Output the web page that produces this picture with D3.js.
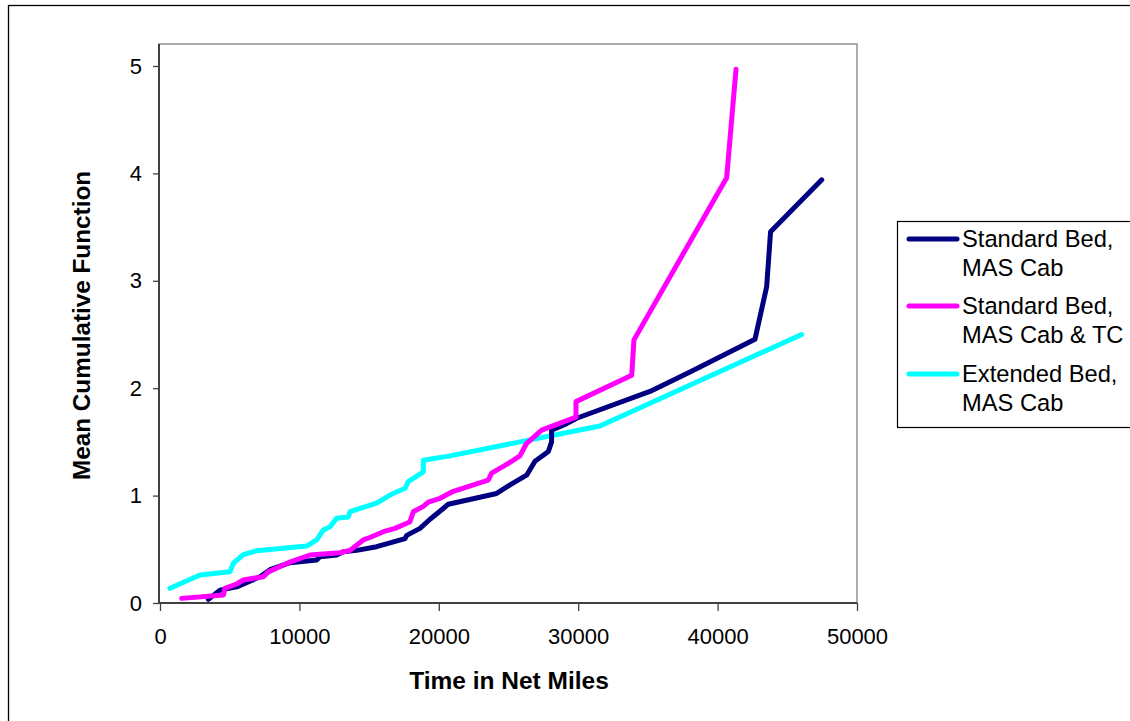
<!DOCTYPE html>
<html>
<head>
<meta charset="utf-8">
<script src="https://cdn.jsdelivr.net/npm/d3@7"></script>
<style>
  html, body { margin: 0; padding: 0; background: #fff; }
  svg { display: block; }
  text { font-family: "Liberation Sans", Arial, sans-serif; fill: #000; }
</style>
</head>
<body>
<svg id="chart" width="1130" height="721"></svg>
<script>
// ---- Data ----
const seriesNames = [["Standard Bed,", "MAS Cab"], ["Standard Bed,", "MAS Cab & TC"], ["Extended Bed,", "MAS Cab"]];
const seriesColors = ["#000080", "#FF00FF", "#00FFFF"];

const standardMiles = [3470, 4300, 5500, 7170, 7890, 9330, 11240, 11480, 12680, 13150, 14110, 15540, 16500, 17580, 17700, 18650, 19370, 20320, 20680, 24150, 25110, 26300, 26900, 27860, 28090, 28090, 29170, 29890, 35150, 38020, 42680, 43520, 43800, 47470];
const standardMCF   = [0.034, 0.12, 0.15, 0.245, 0.31, 0.375, 0.40, 0.43, 0.447, 0.478, 0.49, 0.524, 0.56, 0.60, 0.63, 0.695, 0.78, 0.88, 0.92, 1.02, 1.10, 1.19, 1.32, 1.41, 1.50, 1.61, 1.67, 1.72, 1.97, 2.15, 2.455, 2.945, 3.457, 3.94];

const tcMiles = [1550, 4550, 4660, 5500, 5980, 7410, 7770, 9210, 10760, 12910, 13630, 14580, 15060, 16020, 16860, 17580, 17930, 18170, 18890, 19250, 20090, 21040, 23550, 23790, 24990, 25820, 26300, 27380, 29840, 29840, 33840, 34000, 40650, 41320];
const tcMCF   = [0.043, 0.075, 0.137, 0.177, 0.214, 0.245, 0.29, 0.375, 0.447, 0.468, 0.49, 0.587, 0.61, 0.664, 0.695, 0.736, 0.757, 0.85, 0.90, 0.94, 0.975, 1.04, 1.145, 1.21, 1.30, 1.37, 1.487, 1.61, 1.73, 1.875, 2.12, 2.45, 3.96, 4.97];

const extMiles = [717, 2870, 5020, 5260, 5980, 6935, 10520, 11240, 11720, 12200, 12680, 13510, 13630, 14580, 15540, 16500, 17580, 17810, 18890, 18890, 20800, 31560, 46030];
const extMCF   = [0.137, 0.26, 0.29, 0.37, 0.45, 0.487, 0.53, 0.587, 0.68, 0.71, 0.79, 0.80, 0.85, 0.89, 0.93, 1.005, 1.068, 1.13, 1.22, 1.33, 1.37, 1.648, 2.50];

const xTicks = [0, 10000, 20000, 30000, 40000, 50000];
const yTicks = [0, 1, 2, 3, 4, 5];
const xTitle = "Time in Net Miles";
const yTitle = "Mean Cumulative Function";

// ---- Layout ----
const svg = d3.select("#chart");
const plot = { left: 159, top: 44, right: 857, bottom: 603 };
const x = d3.scaleLinear().domain([0, 50000]).range([160, 857]);
const y = d3.scaleLinear().domain([0, 5]).range([603, 66]);

// outer chart border
svg.append("rect")
  .attr("x", 8.5).attr("y", 5.5).attr("width", 1140).attr("height", 730)
  .attr("fill", "#fff").attr("stroke", "#000").attr("stroke-width", 1.3);

// plot area border
svg.append("rect")
  .attr("x", plot.left).attr("y", plot.top)
  .attr("width", plot.right - plot.left).attr("height", plot.bottom - plot.top)
  .attr("fill", "#fff").attr("stroke", "#808080").attr("stroke-width", 1.3);

// axes
const xAxis = svg.append("g").attr("transform", `translate(0,${plot.bottom})`)
  .call(d3.axisBottom(x).tickValues(xTicks).tickFormat(d3.format("d")).tickSize(8).tickPadding(17));
const yAxis = svg.append("g").attr("transform", `translate(${plot.left},0)`)
  .call(d3.axisLeft(y).tickValues(yTicks).tickFormat(d3.format("d")).tickSize(6).tickPadding(11));
[xAxis, yAxis].forEach(g => {
  g.select(".domain").attr("stroke", "#404040").attr("stroke-width", 2);
  g.selectAll(".tick line").attr("stroke", "#404040").attr("stroke-width", 1.3);
  g.selectAll(".tick text").attr("font-size", 22).attr("font-family", "Liberation Sans, Arial, sans-serif").attr("fill", "#000");
});
xAxis.select(".domain").attr("d", `M${plot.left},0H${plot.right}`);
yAxis.select(".domain").attr("d", `M0,${plot.top}V${plot.bottom}`);

// lines
const series = [
  { xs: standardMiles, ys: standardMCF },
  { xs: tcMiles, ys: tcMCF },
  { xs: extMiles, ys: extMCF }
];
const line = d3.line().x(d => x(d[0])).y(d => y(d[1]));
const drawOrder = [2, 0, 1];
drawOrder.forEach(i => {
  const s = series[i];
  svg.append("path")
    .datum(s.xs.map((v, k) => [v, s.ys[k]]))
    .attr("d", line)
    .attr("fill", "none")
    .attr("stroke", seriesColors[i])
    .attr("stroke-width", 5)
    .attr("stroke-linejoin", "round")
    .attr("stroke-linecap", "round");
});

// titles
svg.append("text")
  .attr("x", (plot.left + plot.right) / 2 + 1).attr("y", 689)
  .attr("text-anchor", "middle").attr("font-size", 24.5).attr("font-weight", "bold")
  .text(xTitle);
svg.append("text")
  .attr("transform", `translate(90,${(plot.top + plot.bottom) / 2 + 2}) rotate(-90)`)
  .attr("text-anchor", "middle").attr("font-size", 24.3).attr("font-weight", "bold")
  .text(yTitle);

// legend
const legend = svg.append("g");
legend.append("rect")
  .attr("x", 897.5).attr("y", 221.5).attr("width", 260).attr("height", 206)
  .attr("fill", "#fff").attr("stroke", "#000").attr("stroke-width", 1.2);
const rowY = [239, 306, 374];
seriesNames.forEach((nm, i) => {
  legend.append("line")
    .attr("x1", 909).attr("x2", 957).attr("y1", rowY[i]).attr("y2", rowY[i])
    .attr("stroke", seriesColors[i]).attr("stroke-width", 5).attr("stroke-linecap", "round");
  const t = legend.append("text").attr("x", 962).attr("y", rowY[i] + 8).attr("font-size", 23.7);
  t.append("tspan").attr("x", 962).text(nm[0]);
  t.append("tspan").attr("x", 962).attr("dy", 29).text(nm[1]);
});
</script>
</body>
</html>
